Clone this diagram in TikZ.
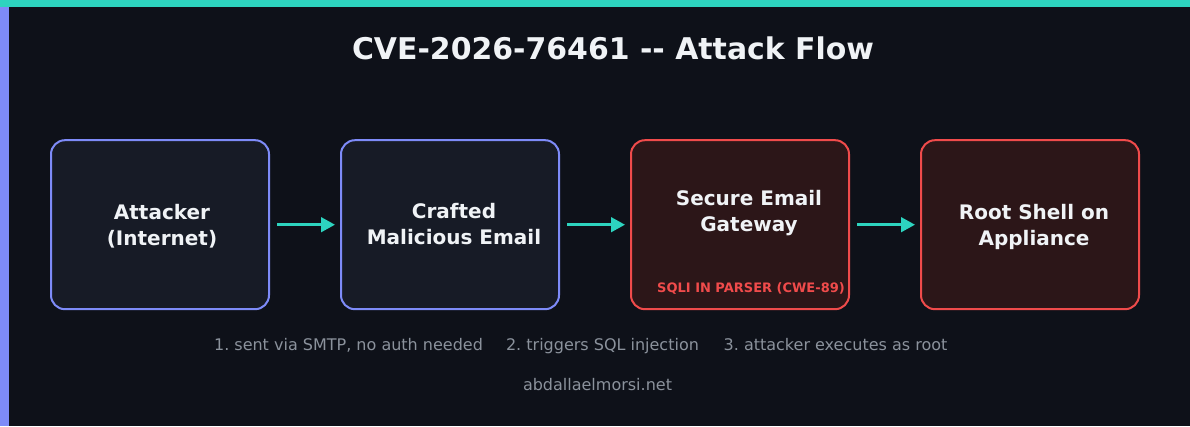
\documentclass[tikz,border=0pt]{standalone}
\usepackage{fontspec}
\setmainfont{DejaVu Sans}
\usepackage{xcolor}
\usetikzlibrary{arrows.meta,positioning}
\definecolor{bgdark}{HTML}{0E1119}
\definecolor{tealbar}{HTML}{2DD4BF}
\definecolor{indigobar}{HTML}{7E8BF8}
\definecolor{fillblue}{HTML}{171B26}
\definecolor{fillred}{HTML}{2C1618}
\definecolor{edgered}{HTML}{F04B4B}
\definecolor{textwhite}{HTML}{F0F3F6}
\definecolor{stepgray}{HTML}{8B929C}
\frenchspacing

\begin{document}
\begin{tikzpicture}[x=1pt,y=-1pt,
  box/.style={draw,line width=2pt,rounded corners=14pt,minimum width=218pt,minimum height=169pt,inner sep=0pt},
  bluebox/.style={box,draw=indigobar,fill=fillblue},
  redbox/.style={box,draw=edgered,fill=fillred},
  boxtext/.style={text=textwhite,font=\bfseries\fontsize{20}{26}\selectfont,align=center},
  flow/.style={draw=tealbar,line width=3pt,-{Triangle[length=14pt,width=14.5pt]},shorten <=7pt,shorten >=5pt},
  steptext/.style={text=stepgray,font=\fontsize{16}{19}\selectfont,anchor=base,inner sep=0pt}]
% background and bars
\fill[bgdark] (0,0) rectangle (1190,426);
\useasboundingbox (0,0) rectangle (1190,426);
\fill[tealbar] (0,0) rectangle (1190,7);
\fill[indigobar] (0,7) rectangle (8.7,426);
% title
\node[text=textwhite,font=\bfseries\fontsize{29.9}{34}\selectfont,anchor=base,inner sep=0pt] (title) at (613,59.5) {CVE-2026-76461 -{}- Attack Flow};
% boxes
\node[bluebox] (atk) at (160,224.7) {};
\node[bluebox,right=70pt of atk] (mail) {};
\node[redbox,right=70pt of mail] (seg) {};
\node[redbox,right=70pt of seg] (root) {};
% box texts
\node[boxtext] (atktxt) at (162,226) {Attacker\\(Internet)};
\node[boxtext] (mailtxt) at (454,224.4) {Crafted\\Malicious Email};
\node[boxtext] (segtxt) at (749,213.2) {Secure Email\\Gateway};
\node[boxtext] (roottxt) at (1034,227) {Root Shell on\\Appliance};
\node[text=edgered,font=\bfseries\fontsize{13}{15}\selectfont,anchor=base,inner sep=0pt] (sqli) at (751,292.7) {SQLI IN PARSER (CWE-89)};
% arrows
\draw[flow] (atk) -- (mail);
\draw[flow] (mail) -- (seg);
\draw[flow] (seg) -- (root);
% steps
\node[steptext] (step1) at (348.5,350) {1. sent via SMTP, no auth needed};
\node[steptext] (step2) at (602.5,350) {2. triggers SQL injection};
\node[steptext] (step3) at (835.5,350) {3. attacker executes as root};
\node[steptext] (site) at (597.5,390) {abdallaelmorsi.net};
\end{tikzpicture}
\end{document}
